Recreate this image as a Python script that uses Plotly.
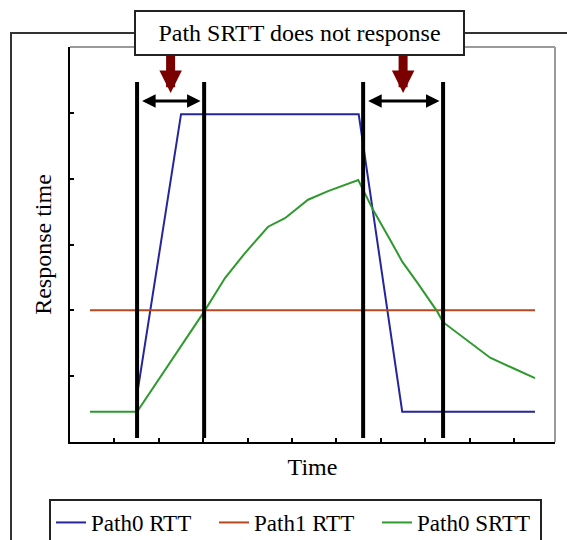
import plotly.graph_objects as go

# ---- data ----
event_times = [1.51, 3.02, 6.6, 8.4]          # vertical black markers
windows = [(1.51, 3.02), (6.6, 8.4)]          # "does not response" windows

path0_rtt_x = [1.52, 2.5, 6.5, 7.48, 10.47]
path0_rtt_y = [0.76, 4.98, 4.98, 0.46, 0.46]

path1_rtt_x = [0.45, 10.47]
path1_rtt_y = [2.0, 2.0]

srtt_x = [0.45, 1.51, 3.02, 3.49, 3.94, 4.46, 4.84, 5.36, 5.81, 6.49, 6.6,
          6.82, 7.21, 7.48, 7.82, 8.27, 8.4, 8.94, 9.46, 9.98, 10.47]
srtt_y = [0.46, 0.46, 1.98, 2.49, 2.87, 3.27, 3.40, 3.68, 3.81, 3.98, 3.83,
          3.53, 3.07, 2.74, 2.42, 1.98, 1.82, 1.55, 1.28, 1.12, 0.97]

x_ticks = [1, 2, 3, 4, 5, 6, 7, 8, 9, 10]
y_ticks = [1, 2, 3, 4, 5]

note_text = "Path SRTT does not response"
x_title = "Time"
y_title = "Response time"

# ---- style ----
W, H = 567, 540
FONT = "'Liberation Serif', 'Times New Roman', Times, 'DejaVu Serif', serif"
BLUE = "#25259c"
ORANGE = "#b5481e"
GREEN = "#2e9a2e"
DARKRED = "#7a0000"

def px(x):
    return x / W

def py(y):
    return (H - y) / H

fig = go.Figure()
fig.add_trace(go.Scatter(x=path0_rtt_x, y=path0_rtt_y, mode="lines", name="Path0 RTT",
                         line=dict(color=BLUE, width=2)))
fig.add_trace(go.Scatter(x=path1_rtt_x, y=path1_rtt_y, mode="lines", name="Path1 RTT",
                         line=dict(color=ORANGE, width=2)))
fig.add_trace(go.Scatter(x=srtt_x, y=srtt_y, mode="lines", name="Path0 SRTT",
                         line=dict(color=GREEN, width=2)))

shapes = []
# outer frame (partially out of view)
shapes.append(dict(type="rect", xref="paper", yref="paper",
                   x0=px(11), x1=px(600), y0=py(580), y1=py(33),
                   line=dict(color="#333333", width=2), layer="below"))
# grey top/right frame of the plot area
shapes.append(dict(type="line", xref="x domain", yref="y domain",
                   x0=0, x1=1, y0=1, y1=1, line=dict(color="#9a9a9a", width=2)))
shapes.append(dict(type="line", xref="x domain", yref="y domain",
                   x0=1, x1=1, y0=0, y1=1, line=dict(color="#9a9a9a", width=2)))
# event lines
for t in event_times:
    shapes.append(dict(type="line", xref="x", yref="y", x0=t, x1=t, y0=0.06, y1=5.47,
                       line=dict(color="black", width=4), layer="above"))

annotations = []
# double arrows for windows, and the red pointers
for a, b in windows:
    annotations.append(dict(x=b - 0.08, y=5.18, ax=a + 0.08, ay=5.18,
                            xref="x", yref="y", axref="x", ayref="y", text="",
                            showarrow=True, arrowside="end+start",
                            arrowhead=2, startarrowhead=2,
                            arrowsize=0.9, startarrowsize=0.9,
                            arrowwidth=3, arrowcolor="black", standoff=0, startstandoff=0))
    mid = (a + b) / 2
    annotations.append(dict(x=mid, y=5.30, ax=mid, ay=5.9,
                            xref="x", yref="y", axref="x", ayref="y", text="",
                            showarrow=True, arrowhead=2, arrowsize=0.5,
                            arrowwidth=9, arrowcolor=DARKRED, standoff=0))
# note box
annotations.append(dict(x=px(299.5), y=py(33), xref="paper", yref="paper",
                        text=note_text, showarrow=False,
                        font=dict(family=FONT, size=24, color="black"),
                        bgcolor="white", bordercolor="#222222", borderwidth=2,
                        borderpad=2, width=323, height=38,
                        xanchor="center", yanchor="middle"))

fig.update_layout(
    width=W, height=H,
    margin=dict(l=0, r=0, t=0, b=0, autoexpand=False),
    paper_bgcolor="white", plot_bgcolor="white",
    font=dict(family=FONT, color="black"),
    shapes=shapes, annotations=annotations,
    showlegend=True,
    legend=dict(orientation="h", x=px(49), y=py(499), xanchor="left", yanchor="top",
                bordercolor="#222222", borderwidth=2, bgcolor="white",
                font=dict(family=FONT, size=23, color="black"),
                entrywidth=118, itemwidth=30, tracegroupgap=0),
    xaxis=dict(domain=[px(70), px(555)], range=[0, 10.92],
               showgrid=False, zeroline=False, showline=True, linecolor="black", linewidth=2,
               ticks="inside", ticklen=4, tickwidth=1.5, tickcolor="black",
               tickvals=x_ticks, showticklabels=False,
               title=dict(text=x_title, font=dict(family=FONT, size=24), standoff=15)),
    yaxis=dict(domain=[py(442), py(47)], range=[0, 6],
               showgrid=False, zeroline=False, showline=True, linecolor="black", linewidth=2,
               ticks="inside", ticklen=4, tickwidth=1.5, tickcolor="black",
               tickvals=y_ticks, showticklabels=False,
               title=dict(text=y_title, font=dict(family=FONT, size=24), standoff=10)),
)

fig.write_html("out.html")
